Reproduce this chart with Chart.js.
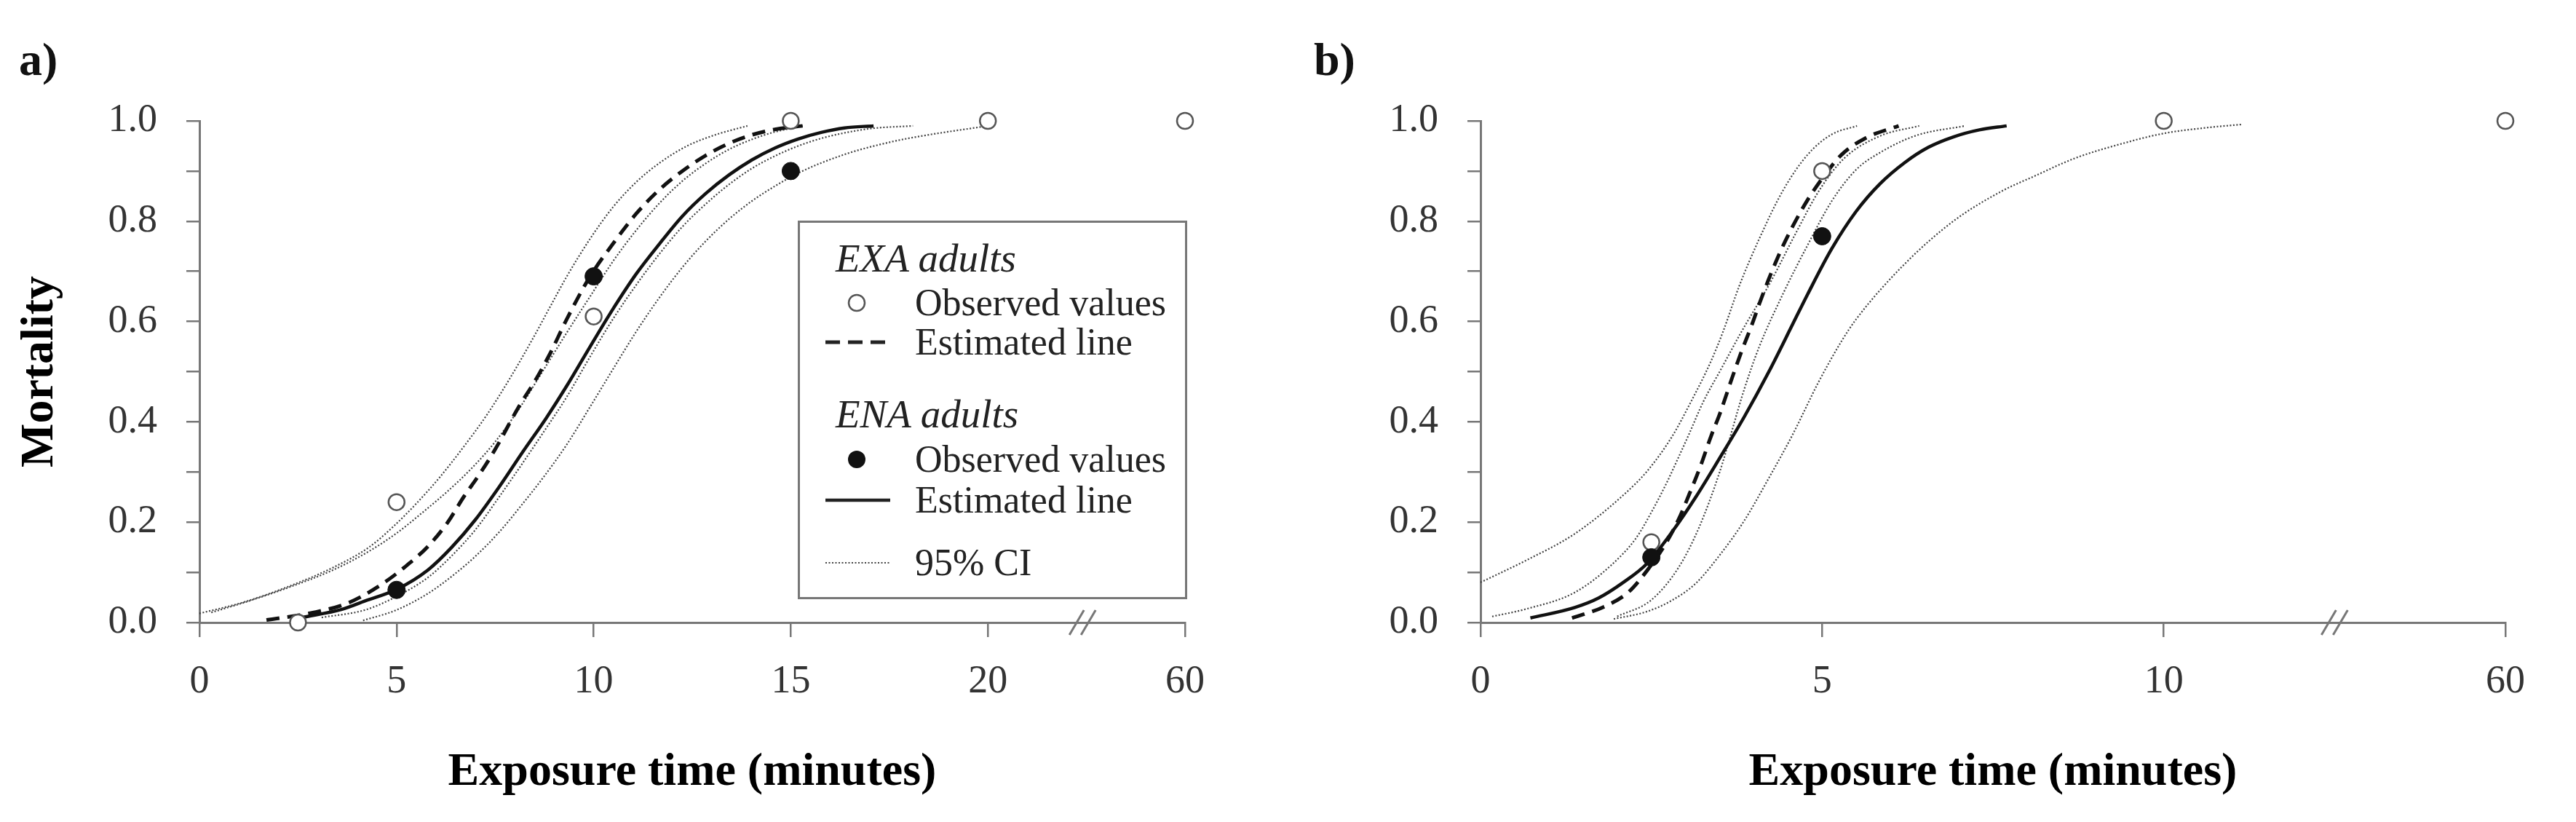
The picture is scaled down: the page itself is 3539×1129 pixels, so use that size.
<!DOCTYPE html>
<html>
<head>
<meta charset="utf-8">
<title>Mortality vs exposure time</title>
<script src="https://cdn.jsdelivr.net/npm/chart.js@4.4.1/dist/chart.umd.min.js"></script>
<style>
body{margin:0;background:#fff;width:3539px;height:1129px;position:relative;overflow:hidden;font-family:"Liberation Serif",serif}
canvas{position:absolute;top:0}
#chartA{left:0}
#chartB{left:1760px}
.panel{position:absolute;top:50px;font-weight:bold;font-size:64px;line-height:64px;color:#111}
#legendBox{position:absolute;left:1096px;top:303px;width:535px;height:520px;border:3px solid #777;box-sizing:border-box;background:#fff}
.lg{position:absolute;left:1257px;font-size:52px;line-height:52px;color:#222;white-space:nowrap}
.grp{left:1148px;font-style:italic;font-size:55px;line-height:55px}
#legendMarks{position:absolute;left:0;top:0}
</style>
</head>
<body>

<canvas id="chartA" width="1700" height="1129"></canvas>
<canvas id="chartB" width="1779" height="1129"></canvas>

<div class="panel" style="left:26px">a)</div>
<div class="panel" style="left:1805px">b)</div>

<div id="legendBox"></div>
<svg id="legendMarks" width="3539" height="1129">
    <circle cx="1177" cy="416" r="11" fill="#fff" stroke="#555" stroke-width="2.5"/>
    <line x1="1134" y1="470" x2="1223" y2="470" stroke="#222" stroke-width="5" stroke-dasharray="20 11"/>
    <circle cx="1177" cy="631" r="12" fill="#111"/>
    <line x1="1134" y1="687" x2="1223" y2="687" stroke="#222" stroke-width="4.5"/>
    <line x1="1134" y1="773" x2="1223" y2="773" stroke="#444" stroke-width="2.2" stroke-dasharray="2 2.5"/>
</svg>
<div class="lg grp" style="top:327px">EXA adults</div>
<div class="lg" style="top:390px">Observed values</div>
<div class="lg" style="top:444px">Estimated line</div>
<div class="lg grp" style="top:541px">ENA adults</div>
<div class="lg" style="top:605px">Observed values</div>
<div class="lg" style="top:661px">Estimated line</div>
<div class="lg" style="top:747px">95% CI</div>

<script>

const FONT = "'Liberation Serif', serif"

// ------------------------------
// DATA - PANEL a)
// ------------------------------

const tickTimesA = [0, 5, 10, 15, 20, 60]

const obsTimesExaA = [2.5, 5, 10, 15, 20, 60]
const obsMortExaA = [0.0, 0.24, 0.61, 1.0, 1.0, 1.0]

const obsTimesEnaA = [5, 10, 15]
const obsMortEnaA = [0.065, 0.69, 0.9]

const estTimesExaA = [1.7, 2.9, 3.8, 4.6, 5.2, 5.8, 6.3, 6.7, 7.1, 7.5, 8.1, 8.5, 8.9, 9.32, 9.91, 10.49, 11.08, 11.67, 12.25, 12.84, 13.43, 14.01, 14.6, 15.3]
const estMortExaA = [0.005, 0.02, 0.04, 0.075, 0.11, 0.152, 0.2, 0.25, 0.295, 0.345, 0.43, 0.48, 0.537, 0.605, 0.69, 0.755, 0.815, 0.863, 0.9, 0.931, 0.955, 0.972, 0.983, 0.99]

const estTimesEnaA = [2.6, 3.6, 4.2, 5.0, 5.8, 6.4, 7.0, 7.6, 8.2, 8.8, 9.32, 9.91, 10.49, 11.08, 11.67, 12.25, 12.84, 13.43, 14.01, 14.6, 15.19, 15.77, 16.36, 17.1]
const estMortEnaA = [0.01, 0.026, 0.043, 0.066, 0.105, 0.15, 0.205, 0.27, 0.34, 0.408, 0.472, 0.55, 0.625, 0.695, 0.755, 0.81, 0.855, 0.892, 0.922, 0.946, 0.964, 0.977, 0.986, 0.99]

const ciTimesA1 = [0, 1.1, 2.3, 3.4, 4.3, 4.9, 5.5, 6.1, 6.7, 7.3, 7.9, 8.45, 8.9, 9.32, 9.91, 10.49, 11.08, 11.67, 12.37, 13.08, 13.9]
const ciMortA1 = [0.018, 0.04, 0.073, 0.11, 0.15, 0.19, 0.237, 0.29, 0.35, 0.415, 0.49, 0.565, 0.63, 0.69, 0.765, 0.828, 0.878, 0.916, 0.95, 0.972, 0.99]

const ciTimesA2 = [0.3, 1.1, 2.3, 3.4, 4.3, 5.0, 5.7, 6.3, 6.9, 7.5, 8.1, 8.7, 9.32, 9.91, 10.49, 11.08, 11.67, 12.25, 12.84, 13.43, 14.01, 14.6, 15.3]
const ciMortA2 = [0.02, 0.039, 0.071, 0.105, 0.142, 0.178, 0.222, 0.262, 0.307, 0.36, 0.425, 0.5, 0.578, 0.65, 0.72, 0.782, 0.836, 0.88, 0.915, 0.943, 0.963, 0.978, 0.99]

const ciTimesA3 = [3.1, 4.2, 5.0, 5.8, 6.4, 7.0, 7.6, 8.2, 8.8, 9.32, 9.91, 10.49, 11.08, 11.67, 12.25, 12.84, 13.43, 14.01, 14.6, 15.19, 15.77, 16.36, 17.07, 18.1]
const ciMortA3 = [0.01, 0.025, 0.052, 0.09, 0.133, 0.185, 0.25, 0.318, 0.388, 0.45, 0.53, 0.605, 0.673, 0.735, 0.789, 0.834, 0.873, 0.905, 0.93, 0.95, 0.965, 0.976, 0.985, 0.99]

const ciTimesA4 = [4.15, 5.0, 5.8, 6.4, 7.0, 7.6, 8.15, 8.73, 9.32, 9.91, 10.49, 11.08, 11.67, 12.25, 12.84, 13.43, 14.01, 14.6, 15.19, 16.36, 17.54, 18.33, 20.0]
const ciMortA4 = [0.004, 0.025, 0.058, 0.092, 0.132, 0.18, 0.232, 0.29, 0.355, 0.43, 0.505, 0.58, 0.648, 0.708, 0.76, 0.804, 0.84, 0.87, 0.896, 0.933, 0.958, 0.97, 0.99]

// ------------------------------
// DATA - PANEL b)
// ------------------------------

const tickTimesB = [0, 5, 10, 60]

const obsTimesExaB = [2.5, 5, 10, 60]
const obsMortExaB = [0.16, 0.9, 1.0, 1.0]

const obsTimesEnaB = [2.5, 5]
const obsMortEnaB = [0.13, 0.77]

const estTimesExaB = [1.34, 1.8, 2.16, 2.44, 2.7, 2.9, 3.05, 3.22, 3.37, 3.51, 3.68, 3.83, 3.97, 4.08, 4.22, 4.4, 4.57, 4.79, 5.0, 5.28, 5.64, 6.12]
const estMortExaB = [0.009, 0.031, 0.06, 0.104, 0.155, 0.206, 0.254, 0.312, 0.37, 0.419, 0.487, 0.544, 0.593, 0.635, 0.685, 0.743, 0.79, 0.843, 0.885, 0.932, 0.966, 0.99]

const estTimesEnaB = [0.73, 1.38, 1.73, 2.09, 2.44, 2.8, 3.15, 3.51, 3.86, 4.22, 4.57, 4.79, 5.14, 5.5, 5.85, 6.21, 6.55, 6.92, 7.3, 7.7]
const estMortEnaB = [0.009, 0.03, 0.049, 0.08, 0.118, 0.18, 0.25, 0.33, 0.41, 0.5, 0.595, 0.655, 0.745, 0.82, 0.875, 0.917, 0.947, 0.968, 0.982, 0.99]

const ciTimesB1 = [0, 0.67, 1.38, 2.09, 2.44, 2.8, 3.08, 3.37, 3.55, 3.79, 4.08, 4.43, 4.79, 5.14, 5.51]
const ciMortB1 = [0.08, 0.124, 0.177, 0.254, 0.302, 0.37, 0.44, 0.52, 0.58, 0.672, 0.765, 0.862, 0.933, 0.973, 0.99]

const ciTimesB2 = [0.17, 0.67, 1.38, 1.91, 2.27, 2.51, 2.73, 2.9, 3.05, 3.26, 3.52, 3.8, 4.25, 4.61, 4.96, 5.32, 5.85, 6.42]
const ciMortB2 = [0.012, 0.027, 0.06, 0.114, 0.167, 0.222, 0.28, 0.33, 0.375, 0.44, 0.505, 0.575, 0.68, 0.775, 0.862, 0.925, 0.97, 0.99]

const ciTimesB3 = [2.0, 2.5, 2.9, 3.2, 3.5, 3.86, 4.08, 4.43, 4.79, 5.14, 5.5, 5.85, 6.38, 7.09]
const ciMortB3 = [0.012, 0.045, 0.11, 0.19, 0.3, 0.465, 0.55, 0.656, 0.753, 0.84, 0.903, 0.937, 0.971, 0.99]

const ciTimesB4 = [1.95, 2.44, 2.8, 3.15, 3.51, 3.86, 4.22, 4.57, 4.95, 5.28, 5.5, 6.21, 6.92, 7.63, 8.11, 8.69, 9.4, 10.0, 10.6, 11.15]
const ciMortB4 = [0.007, 0.022, 0.044, 0.078, 0.136, 0.203, 0.288, 0.375, 0.48, 0.56, 0.605, 0.715, 0.8, 0.86, 0.89, 0.925, 0.955, 0.975, 0.986, 0.993]

// ------------------------------
// HELPERS
// ------------------------------

// the last tick sits after an axis break, one tick step past the previous one
function axisPos(t, ticks){

    const last = ticks[ticks.length-1]
    if(t === last) return (ticks.length-1)*5
    return t
}

function points(times, morts, ticks){

    return times.map((t,i) => ({x: axisPos(t, ticks), y: morts[i]}))
}

function openDots(times, morts, ticks){
    return {
        data: points(times, morts, ticks),
        showLine: false,
        pointRadius: 11,
        pointBackgroundColor: "#fff",
        pointBorderColor: "#555",
        pointBorderWidth: 2.5,
        clip: false
    }
}

function filledDots(times, morts, ticks){
    return {
        data: points(times, morts, ticks),
        showLine: false,
        pointRadius: 12,
        pointBackgroundColor: "#111",
        pointBorderColor: "#111",
        pointBorderWidth: 1,
        clip: false
    }
}

function curve(times, morts, ticks, style){

    const ds = {
        data: points(times, morts, ticks),
        showLine: true,
        pointRadius: 0,
        fill: false,
        cubicInterpolationMode: "monotone",
        borderColor: "#111",
        borderWidth: 4.5,
        clip: false
    }

    if(style === "dashed"){
        ds.borderWidth = 5
        ds.borderDash = [18, 11]
    }
    if(style === "dotted"){
        ds.borderColor = "#444"
        ds.borderWidth = 2.2
        ds.borderDash = [2, 2.5]
    }
    return ds
}

// ------------------------------
// AXIS BREAK MARK  //
// ------------------------------

const axisBreak = {
    id: "axisBreak",
    afterDraw(chart, args, opts){

        const {ctx} = chart
        const x = chart.scales.x
        const px = x.getPixelForValue(opts.at)
        const py = x.top

        ctx.save()
        ctx.strokeStyle = "#777"
        ctx.lineWidth = 3
        for(const dx of [-8, 8]){
            ctx.beginPath()
            ctx.moveTo(px+dx-10, py+17)
            ctx.lineTo(px+dx+10, py-17)
            ctx.stroke()
        }
        ctx.restore()
    }
}

// ------------------------------
// BUILD ONE PANEL
// ------------------------------

function makePanel(id, ticks, breakAt, rightPad, showYTitle, datasets){

    const ctx = document.getElementById(id).getContext("2d")

    return new Chart(ctx,{
        type:"scatter",
        data:{datasets:datasets},
        plugins:[axisBreak],
        options:{
            responsive:false,
            animation:false,
            events:[],
            layout:{padding:{left:0, top:166, right:rightPad, bottom:0}},
            plugins:{
                legend:{display:false},
                tooltip:{enabled:false},
                axisBreak:{at:breakAt}
            },
            scales:{
                x:{
                    type:"linear",
                    min:0,
                    max:(ticks.length-1)*5,
                    afterFit: s => { s.height = 274 },
                    afterBuildTicks: s => { s.ticks = ticks.map((t,i) => ({value:i*5})) },
                    ticks:{
                        autoSkip:false,
                        maxRotation:0,
                        padding:29,
                        color:"#333",
                        font:{family:FONT, size:54},
                        callback: v => String(ticks[Math.round(v/5)])
                    },
                    grid:{display:true, drawOnChartArea:false, drawTicks:true, tickLength:20, color:"#777", lineWidth:2.5},
                    border:{display:true, color:"#777", width:3},
                    title:{
                        display:true,
                        text:"Exposure time (minutes)",
                        color:"#000",
                        font:{family:FONT, size:64, weight:"bold"},
                        padding:{top:0, bottom:29}
                    }
                },
                y:{
                    type:"linear",
                    min:0,
                    max:1,
                    afterFit: s => { s.width = 274 },
                    ticks:{
                        stepSize:0.1,
                        autoSkip:false,
                        padding:40,
                        color:"#333",
                        font:{family:FONT, size:54},
                        callback: v => (Math.round(v*10) % 2 === 0 ? v.toFixed(1) : "")
                    },
                    grid:{display:true, drawOnChartArea:false, drawTicks:true, tickLength:18, color:"#777", lineWidth:2.5},
                    border:{display:true, color:"#777", width:3},
                    title:{
                        display:showYTitle,
                        text:"Mortality",
                        color:"#000",
                        font:{family:FONT, size:64, weight:"bold"},
                        padding:{top:17, bottom:0}
                    }
                }
            }
        }
    })
}

// ------------------------------
// INIT
// ------------------------------

makePanel("chartA", tickTimesA, 22.4, 72, true, [
    filledDots(obsTimesEnaA, obsMortEnaA, tickTimesA),
    openDots(obsTimesExaA, obsMortExaA, tickTimesA),
    curve(estTimesExaA, estMortExaA, tickTimesA, "dashed"),
    curve(estTimesEnaA, estMortEnaA, tickTimesA, "solid"),
    curve(ciTimesA1, ciMortA1, tickTimesA, "dotted"),
    curve(ciTimesA2, ciMortA2, tickTimesA, "dotted"),
    curve(ciTimesA3, ciMortA3, tickTimesA, "dotted"),
    curve(ciTimesA4, ciMortA4, tickTimesA, "dotted")
])

makePanel("chartB", tickTimesB, 12.5, 97, false, [
    filledDots(obsTimesEnaB, obsMortEnaB, tickTimesB),
    openDots(obsTimesExaB, obsMortExaB, tickTimesB),
    curve(estTimesExaB, estMortExaB, tickTimesB, "dashed"),
    curve(estTimesEnaB, estMortEnaB, tickTimesB, "solid"),
    curve(ciTimesB1, ciMortB1, tickTimesB, "dotted"),
    curve(ciTimesB2, ciMortB2, tickTimesB, "dotted"),
    curve(ciTimesB3, ciMortB3, tickTimesB, "dotted"),
    curve(ciTimesB4, ciMortB4, tickTimesB, "dotted")
])

</script>
</body>
</html>
